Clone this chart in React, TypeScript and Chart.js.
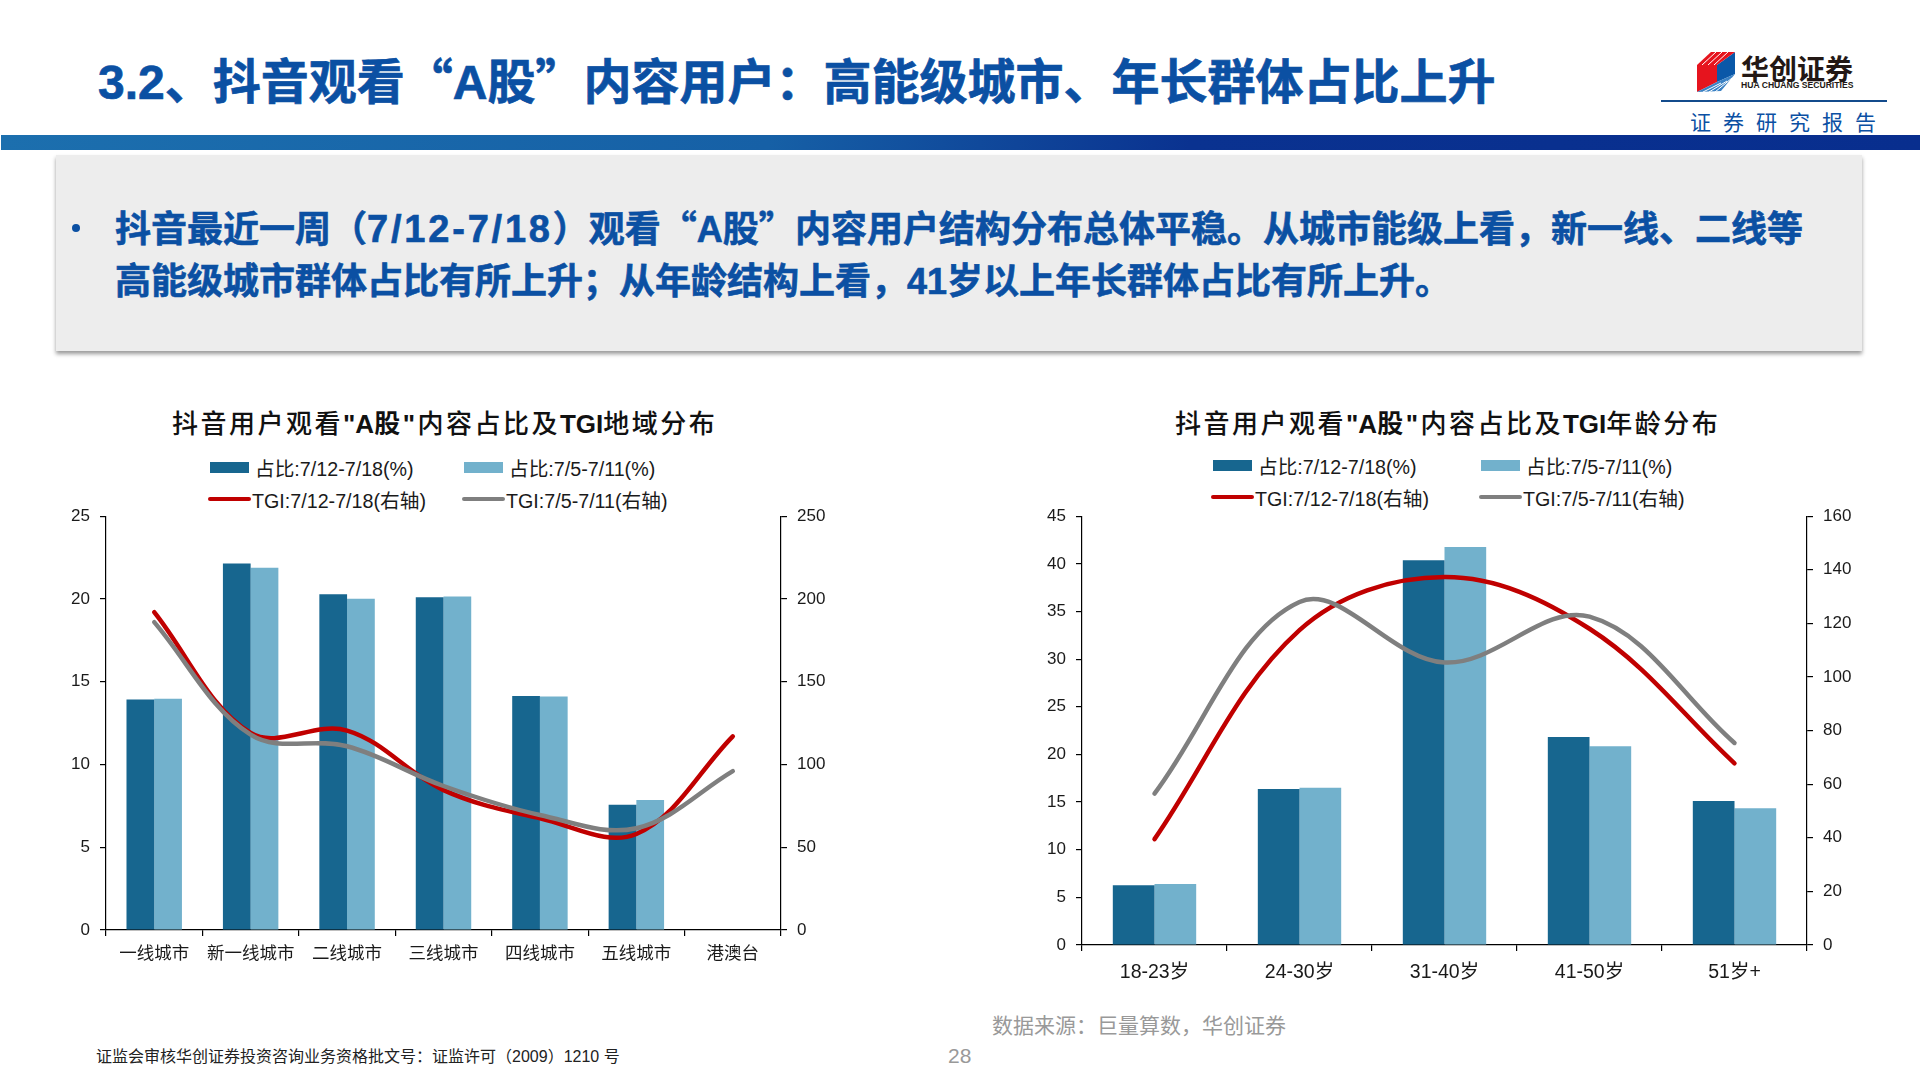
import { useEffect, useRef } from "react";
import { Chart, registerables } from "chart.js";

Chart.register(...registerables);

const FONT = '"Liberation Sans", "Noto Sans CJK SC", sans-serif';
const CJK = '"Noto Sans CJK SC", sans-serif';
const BLUE = "#0B50A3";

const legendLabels = ["占比:7/12-7/18(%)", "占比:7/5-7/11(%)", "TGI:7/12-7/18(右轴)", "TGI:7/5-7/11(右轴)"];
const seriesColors = ["#17668F", "#72B1CC", "#C00000", "#7F7F7F"];

const cityLabels = ["一线城市", "新一线城市", "二线城市", "三线城市", "四线城市", "五线城市", "港澳台"];
const cityShareNow = [13.92, 22.14, 20.29, 20.1, 14.13, 7.57, 0];
const cityShareLast = [13.97, 21.88, 20.01, 20.15, 14.1, 7.85, 0];
const cityTgiNow = [192, 119, 120.5, 84.5, 67.5, 58, 117];
const cityTgiLast = [186, 118, 111, 87, 69.5, 61.5, 96];

const ageLabels = ["18-23岁", "24-30岁", "31-40岁", "41-50岁", "51岁+"];
const ageShareNow = [6.27, 16.37, 40.37, 21.83, 15.12];
const ageShareLast = [6.39, 16.49, 41.78, 20.87, 14.35];
const ageTgiNow = [39.5, 117.5, 137.3, 118, 67.8];
const ageTgiLast = [56.5, 128, 105.4, 122.5, 75.4];

type PanelProps = {
  left: number;
  right: number;
  top: number;
  bottom: number;
  labels: string[];
  shareNow: number[];
  shareLast: number[];
  tgiNow: number[];
  tgiLast: number[];
  leftMax: number;
  leftStep: number;
  rightMax: number;
  rightStep: number;
  labelPad: number;
  labelSize: number;
};

// canvas is a bit bigger than the plot, the axes are given fixed sizes so the plot lands where it should
const PAD_X = 70;
const PAD_TOP = 20; // half a tick label + tick padding, chart.js reserves this above the plot
const PAD_BOTTOM = 50;

function ComboChart(p: PanelProps) {
  const chartRef = useRef<HTMLCanvasElement>(null);

  useEffect(() => {
    if (!chartRef.current) return;
    const ctx = chartRef.current.getContext("2d");
    if (!ctx) return;

    const axisBase = {
      border: { color: "#000", width: 1.2 },
      grid: { drawOnChartArea: false, color: "#000", lineWidth: 1.2, tickLength: 6 },
    };

    const chart = new Chart(ctx, {
      type: "bar",
      data: {
        labels: p.labels,
        datasets: [
          { type: "line", label: legendLabels[2], data: p.tgiNow, yAxisID: "y1", borderColor: seriesColors[2], borderWidth: 4.5, borderCapStyle: "round", pointRadius: 0, tension: 0.36, order: 1 },
          { type: "line", label: legendLabels[3], data: p.tgiLast, yAxisID: "y1", borderColor: seriesColors[3], borderWidth: 4.5, borderCapStyle: "round", pointRadius: 0, tension: 0.36, order: 0 },
          { label: legendLabels[0], data: p.shareNow, yAxisID: "y", backgroundColor: seriesColors[0], order: 3, categoryPercentage: 0.575, barPercentage: 1 },
          { label: legendLabels[1], data: p.shareLast, yAxisID: "y", backgroundColor: seriesColors[1], order: 3, categoryPercentage: 0.575, barPercentage: 1 },
        ],
      },
      options: {
        responsive: false,
        animation: false,
        devicePixelRatio: 1,
        plugins: { legend: { display: false }, title: { display: false }, tooltip: { enabled: false } },
        scales: {
          x: {
            ...axisBase,
            offset: true,
            grid: { ...axisBase.grid, offset: true },
            ticks: { color: "#1a1a1a", font: { family: FONT, size: p.labelSize }, padding: p.labelPad, maxRotation: 0, autoSkip: false },
            afterFit: (a: any) => { a.height = PAD_BOTTOM; },
          },
          y: {
            ...axisBase,
            position: "left",
            min: 0,
            max: p.leftMax,
            ticks: { stepSize: p.leftStep, color: "#1a1a1a", font: { family: FONT, size: 17 }, padding: 10 },
            afterFit: (a: any) => { a.width = PAD_X; },
          },
          y1: {
            ...axisBase,
            position: "right",
            min: 0,
            max: p.rightMax,
            ticks: { stepSize: p.rightStep, color: "#1a1a1a", font: { family: FONT, size: 17 }, padding: 10 },
            afterFit: (a: any) => { a.width = PAD_X; },
          },
        },
      },
    });

    return () => chart.destroy();
  }, []);

  return (
    <canvas
      ref={chartRef}
      width={p.right - p.left + PAD_X * 2}
      height={p.bottom - p.top + PAD_TOP + PAD_BOTTOM}
      style={{ position: "absolute", left: p.left - PAD_X, top: p.top - PAD_TOP }}
    />
  );
}

function Legend({ x, y, col2 }: { x: number; y: number; col2: number }) {
  const items = [
    { i: 0, col: 0, row: 0 },
    { i: 1, col: 1, row: 0 },
    { i: 2, col: 0, row: 1 },
    { i: 3, col: 1, row: 1 },
  ];
  return (
    <>
      {items.map(({ i, col, row }) => {
        const isBar = row === 0;
        return (
          <div key={i} style={{ position: "absolute", left: x + (col ? col2 : 0), top: y + row * 32, height: 24, display: "flex", alignItems: "center", font: `19.7px ${FONT}`, color: "#1a1a1a", whiteSpace: "nowrap" }}>
            <span
              style={{
                display: "inline-block",
                width: isBar ? 39 : 43,
                height: isBar ? 11 : 4,
                marginLeft: isBar ? 2 : 0,
                marginRight: isBar ? 6 : 1,
                background: seriesColors[i],
                borderRadius: isBar ? 0 : 2,
              }}
            />
            {legendLabels[i]}
          </div>
        );
      })}
    </>
  );
}

function ChartTitle({ x, y, tail }: { x: number; y: number; tail: string }) {
  const b = { fontFamily: FONT, fontWeight: 700 };
  return (
    <div style={{ position: "absolute", left: x, top: y, font: `500 26px ${CJK}`, color: "#111", letterSpacing: 2.5, whiteSpace: "nowrap", lineHeight: "36px" }}>
      抖音用户观看<span style={{ ...b, letterSpacing: 0 }}>"A</span><span style={{ fontWeight: 700 }}>股</span><span style={b}>"</span>内容占比及<span style={{ ...b, letterSpacing: 0 }}>TGI</span>{tail}
    </div>
  );
}

function Logo() {
  return (
    <svg style={{ position: "absolute", left: 1697, top: 52 }} width={39} height={40} viewBox="0 0 39 40">
      <polygon points="0,13 20,13 20,30 0,40" fill="#E6141E" />
      <polygon points="20,13 38,0 38,22 20,30" fill="#0A58A8" />
      <polygon points="0,13 14,0 38,0 20,13" fill="#E6141E" />
      <polygon points="0,40 20,30 38,22 24,39" fill="#3B82C4" />
      <path d="M5,13 L19,0 M11,13 L25,0 M17,13 L31,0 M6,40 L24,31 M12,40 L30,29 M18,40 L35,26" stroke="#fff" strokeWidth={1} />
    </svg>
  );
}

function Txt({ x, y, size, color, weight, children, family, spacing, stroke }: any) {
  return (
    <div style={{ position: "absolute", left: x, top: y, fontSize: size, color, fontWeight: weight ?? 400, fontFamily: family ?? FONT, letterSpacing: spacing ?? 0, whiteSpace: "nowrap", lineHeight: 1, WebkitTextStroke: stroke ? `${stroke}px ${color}` : undefined }}>
      {children}
    </div>
  );
}

export default function App() {
  const q = { fontFamily: CJK };
  return (
    <div style={{ position: "fixed", left: 0, top: 0, width: 1920, height: 1080, background: "#fff", overflow: "hidden" }}>
      <Txt x={98} y={54} size={48} color={BLUE} weight={700} stroke={0.7}>
        3.2、抖音观看<span style={q}>“</span>A股<span style={q}>”</span>内容用户<span style={q}>：</span>高能级城市<span style={q}>、</span>年长群体占比上升
      </Txt>

      <Logo />
      <Txt x={1741} y={54} size={28} color="#231815" weight={700} family={CJK}>华创证券</Txt>
      <Txt x={1741} y={81} size={8.6} color="#231815" weight={700}>HUA CHUANG SECURITIES</Txt>
      <div style={{ position: "absolute", left: 1661, top: 100, width: 226, height: 2, background: "#134B8C" }} />
      <Txt x={1690} y={111} size={21} color={BLUE} family={CJK} spacing={12}>证券研究报告</Txt>

      <div style={{ position: "absolute", left: 1, top: 135, width: 1919, height: 15, background: "linear-gradient(100deg, #1C6FAE 0%, #1660A6 40%, #0A3290 62%, #082E8E 100%)" }} />

      <div style={{ position: "absolute", left: 56, top: 155, width: 1806, height: 196, background: "#EDEDED", boxShadow: "0 3px 4px rgba(0,0,0,0.4)" }} />
      <div style={{ position: "absolute", left: 72, top: 224, width: 8, height: 8, borderRadius: 4, background: BLUE }} />
      <Txt x={115} y={208} size={36} color={BLUE} weight={700} stroke={0.6}>
        抖音最近一周<span style={q}>（</span><span style={{ fontSize: 38, letterSpacing: 2.8 }}>7/12-7/18</span><span style={q}>）</span>观看<span style={q}>“</span>A股<span style={q}>”</span>内容用户结构分布总体平稳<span style={q}>。</span>从城市能级上看<span style={q}>，</span>新一线<span style={q}>、</span>二线等
      </Txt>
      <Txt x={115} y={260} size={36} color={BLUE} weight={700} stroke={0.6}>
        高能级城市群体占比有所上升<span style={q}>；</span>从年龄结构上看<span style={q}>，</span>41岁以上年长群体占比有所上升<span style={q}>。</span>
      </Txt>

      <ChartTitle x={172} y={404} tail="地域分布" />
      <Legend x={208} y={455} col2={254} />
      <ComboChart left={106} right={781} top={516} bottom={930} labels={cityLabels} shareNow={cityShareNow} shareLast={cityShareLast} tgiNow={cityTgiNow} tgiLast={cityTgiLast} leftMax={25} leftStep={5} rightMax={250} rightStep={50} labelPad={8} labelSize={17.5} />

      <ChartTitle x={1175} y={404} tail="年龄分布" />
      <Legend x={1211} y={453} col2={268} />
      <ComboChart left={1082} right={1807} top={516} bottom={945} labels={ageLabels} shareNow={ageShareNow} shareLast={ageShareLast} tgiNow={ageTgiNow} tgiLast={ageTgiLast} leftMax={45} leftStep={5} rightMax={160} rightStep={20} labelPad={10} labelSize={19.5} />

      <Txt x={992} y={1014} size={21} color="#999" family={CJK}>数据来源：巨量算数，华创证券</Txt>
      <Txt x={96} y={1047} size={16} color="#222">
        证监会审核华创证券投资咨询业务资格批文号<span style={q}>：</span>证监许可<span style={q}>（</span>2009<span style={q}>）</span>1210 号
      </Txt>
      <Txt x={948} y={1045} size={21} color="#999">28</Txt>
    </div>
  );
}
